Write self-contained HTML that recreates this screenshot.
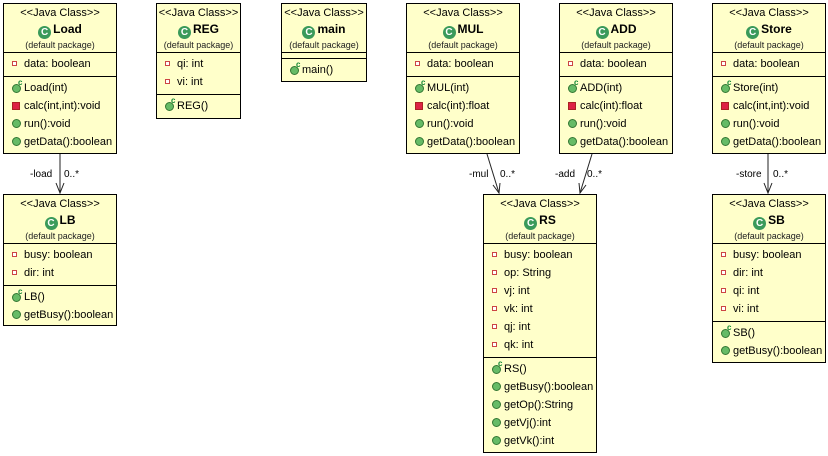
<!DOCTYPE html>
<html><head><meta charset="utf-8"><style>
body{margin:0;width:828px;height:456px;background:#fff;position:relative;font-family:"Liberation Sans",sans-serif;overflow:hidden}
.b{position:absolute;background:#ffffca;border:1.4px solid #000;box-sizing:border-box;font-size:11px;color:#000}
.h{height:49px;border-bottom:1px solid #000;text-align:center;box-sizing:border-box}
.st{padding-top:2px;font-size:11px;line-height:14px}
.nm{font-weight:bold;font-size:12px;line-height:18px}
.pk{font-size:9px;line-height:13px;color:#222}
.ci{display:inline-block;width:13px;height:13px;border-radius:50%;background:#3a9a5a;color:#fff;font-size:10px;line-height:13px;vertical-align:-2px;margin-right:2px;font-weight:bold}
.s{border-bottom:1px solid #000;padding:2px 0 3px 0}
.s:last-child{border-bottom:none}
.r{height:18px;line-height:18px;padding-left:8px;white-space:nowrap;position:relative}
.pa::before{content:"";display:inline-block;width:3px;height:3px;border:1px solid #c44;background:#fff;margin-right:7px;vertical-align:1px}
.pm::before{content:"";display:inline-block;width:6px;height:6px;background:#d24;border:1px solid #a22;margin-right:4px;vertical-align:-1px}
.pu::before{content:"";display:inline-block;width:7px;height:7px;border-radius:50%;background:#6b6;border:1px solid #373;margin-right:3px;vertical-align:-1px}
.co::before{content:"";display:inline-block;width:7px;height:7px;border-radius:50%;background:#6b6;border:1px solid #373;margin-right:3px;vertical-align:-2px}
.co::after{content:"c";position:absolute;left:14px;top:-5px;font-size:8px;font-weight:bold;color:#183}
.l{position:absolute;font-size:10px}
</style></head><body>

<div class="b" style="left:3px;top:3px;width:114px;height:151px">
<div class="h"><div class="st">&lt;&lt;Java Class&gt;&gt;</div><div class="nm"><span class="ci">C</span>Load</div><div class="pk">(default package)</div></div>
<div class="s"><div class="r pa">data: boolean</div></div>
<div class="s"><div class="r co">Load(int)</div><div class="r pm">calc(int,int):void</div><div class="r pu">run():void</div><div class="r pu">getData():boolean</div></div>
</div>

<div class="b" style="left:156px;top:3px;width:85px;height:116px">
<div class="h"><div class="st">&lt;&lt;Java Class&gt;&gt;</div><div class="nm"><span class="ci">C</span>REG</div><div class="pk">(default package)</div></div>
<div class="s"><div class="r pa">qi: int</div><div class="r pa">vi: int</div></div>
<div class="s"><div class="r co">REG()</div></div>
</div>

<div class="b" style="left:281px;top:3px;width:86px;height:79px">
<div class="h"><div class="st">&lt;&lt;Java Class&gt;&gt;</div><div class="nm"><span class="ci">C</span>main</div><div class="pk">(default package)</div></div>
<div class="s" style="height:1px;padding:2px 0"></div>
<div class="s"><div class="r co">main()</div></div>
</div>

<div class="b" style="left:406px;top:3px;width:114px;height:151px">
<div class="h"><div class="st">&lt;&lt;Java Class&gt;&gt;</div><div class="nm"><span class="ci">C</span>MUL</div><div class="pk">(default package)</div></div>
<div class="s"><div class="r pa">data: boolean</div></div>
<div class="s"><div class="r co">MUL(int)</div><div class="r pm">calc(int):float</div><div class="r pu">run():void</div><div class="r pu">getData():boolean</div></div>
</div>

<div class="b" style="left:559px;top:3px;width:114px;height:151px">
<div class="h"><div class="st">&lt;&lt;Java Class&gt;&gt;</div><div class="nm"><span class="ci">C</span>ADD</div><div class="pk">(default package)</div></div>
<div class="s"><div class="r pa">data: boolean</div></div>
<div class="s"><div class="r co">ADD(int)</div><div class="r pm">calc(int):float</div><div class="r pu">run():void</div><div class="r pu">getData():boolean</div></div>
</div>

<div class="b" style="left:712px;top:3px;width:114px;height:151px">
<div class="h"><div class="st">&lt;&lt;Java Class&gt;&gt;</div><div class="nm"><span class="ci">C</span>Store</div><div class="pk">(default package)</div></div>
<div class="s"><div class="r pa">data: boolean</div></div>
<div class="s"><div class="r co">Store(int)</div><div class="r pm">calc(int,int):void</div><div class="r pu">run():void</div><div class="r pu">getData():boolean</div></div>
</div>

<div class="b" style="left:3px;top:194px;width:114px;height:132px">
<div class="h"><div class="st">&lt;&lt;Java Class&gt;&gt;</div><div class="nm"><span class="ci">C</span>LB</div><div class="pk">(default package)</div></div>
<div class="s"><div class="r pa">busy: boolean</div><div class="r pa">dir: int</div></div>
<div class="s"><div class="r co">LB()</div><div class="r pu">getBusy():boolean</div></div>
</div>

<div class="b" style="left:483px;top:194px;width:114px;height:259px">
<div class="h"><div class="st">&lt;&lt;Java Class&gt;&gt;</div><div class="nm"><span class="ci">C</span>RS</div><div class="pk">(default package)</div></div>
<div class="s"><div class="r pa">busy: boolean</div><div class="r pa">op: String</div><div class="r pa">vj: int</div><div class="r pa">vk: int</div><div class="r pa">qj: int</div><div class="r pa">qk: int</div></div>
<div class="s"><div class="r co">RS()</div><div class="r pu">getBusy():boolean</div><div class="r pu">getOp():String</div><div class="r pu">getVj():int</div><div class="r pu">getVk():int</div></div>
</div>

<div class="b" style="left:712px;top:194px;width:114px;height:169px">
<div class="h"><div class="st">&lt;&lt;Java Class&gt;&gt;</div><div class="nm"><span class="ci">C</span>SB</div><div class="pk">(default package)</div></div>
<div class="s"><div class="r pa">busy: boolean</div><div class="r pa">dir: int</div><div class="r pa">qi: int</div><div class="r pa">vi: int</div></div>
<div class="s"><div class="r co">SB()</div><div class="r pu">getBusy():boolean</div></div>
</div>

<svg style="position:absolute;left:0;top:0" width="828" height="456">
<g stroke="#222" stroke-width="1" fill="none">
<line x1="60" y1="154" x2="60" y2="193"/><polyline points="56,183 60,193 64,183"/>
<line x1="487" y1="154" x2="499" y2="193"/><polyline points="493,185 499,193 500,183"/>
<line x1="592" y1="154" x2="580" y2="193"/><polyline points="579,183 580,193 586,185"/>
<line x1="768" y1="154" x2="768" y2="193"/><polyline points="764,183 768,193 772,183"/>
</g></svg>
<div class="l" style="left:30px;top:169px">-load</div><div class="l" style="left:64px;top:169px">0..*</div>
<div class="l" style="left:469px;top:169px">-mul</div><div class="l" style="left:500px;top:169px">0..*</div>
<div class="l" style="left:555px;top:169px">-add</div><div class="l" style="left:587px;top:169px">0..*</div>
<div class="l" style="left:736px;top:169px">-store</div><div class="l" style="left:773px;top:169px">0..*</div>
</body></html>
